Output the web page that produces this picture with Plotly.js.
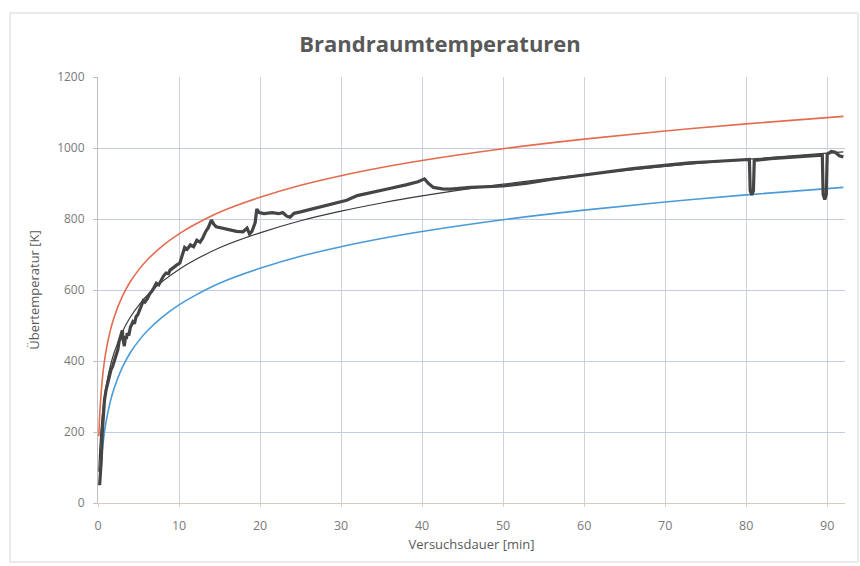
<!DOCTYPE html>
<html>
<head>
<meta charset="utf-8">
<script src="https://cdn.plot.ly/plotly-3.0.1.min.js"></script>
<style>
html,body{margin:0;padding:0;background:#fff;}
#chart{width:860px;height:566px;}
</style>
</head>
<body>
<div id="chart"></div>
<script>
// Reference curves
const refTime  = [0.1, 0.25, 0.5, 0.75, 1, 1.5, 2, 3, 4, 5, 6, 8, 10, 12, 15, 20, 25, 30, 35, 40, 50, 60, 70, 80, 92];
const etkMid   = [88, 165, 241, 292, 329, 384, 424, 482, 524, 556, 583, 625, 658, 685, 719, 761, 795, 822, 845, 865, 898, 925, 948, 968, 989];
const etkUpper = [188, 265, 341, 392, 429, 484, 524, 582, 624, 656, 683, 725, 758, 785, 819, 861, 895, 922, 945, 965, 998, 1025, 1048, 1068, 1089];
const blueTime = [0.25, 0.5, 0.75, 1, 1.5, 2, 3, 4, 5, 6, 8, 10, 12, 15, 20, 25, 30, 35, 40, 50, 60, 70, 80, 92];
const etkLower = [65, 141, 192, 229, 284, 324, 382, 424, 456, 483, 525, 558, 585, 619, 661, 695, 722, 745, 765, 798, 825, 848, 868, 889];

const measTime = [0.2, 0.3, 0.4, 0.53, 0.8, 1.0, 1.2, 1.4, 1.6, 1.8, 2.0, 2.15, 2.3, 2.45, 2.6, 2.8, 2.9, 3.0, 3.1, 3.25, 3.4, 3.5, 3.6, 3.8, 4.0, 4.3, 4.5, 4.7, 4.9, 5.1, 5.3, 5.6, 5.8, 6.1, 6.4, 6.6, 6.9, 7.2, 7.5, 7.8, 8.1, 8.4, 8.7, 8.9, 9.2, 9.4, 9.7, 10.1, 10.4, 10.7, 11.0, 11.4, 11.8, 12.2, 12.6, 12.9, 13.3, 13.6, 14.0, 14.3, 14.6, 15.3, 16.3, 17.1, 17.9, 18.2, 18.4, 18.7, 19.0, 19.4, 19.6, 19.9, 20.5, 21.5, 22.3, 22.8, 23.3, 23.7, 24.2, 25, 26, 27.4, 29, 30.7, 32, 34, 36, 38, 39.5, 40.3, 40.8, 41.4, 42.5, 43.5, 46, 50, 53, 56, 59.9, 63, 66, 70.2, 73, 76, 80, 80.4, 80.5, 80.7, 80.9, 81.0, 83, 86, 89, 89.4, 89.5, 89.7, 89.9, 90, 90.5, 91, 91.5, 92];
const measTemp = [50, 80, 120, 200, 290, 318, 340, 352, 375, 385, 400, 408, 420, 432, 455, 470, 482, 486, 460, 442, 470, 462, 478, 472, 495, 510, 505, 525, 530, 540, 552, 570, 566, 576, 590, 595, 606, 619, 615, 630, 640, 648, 646, 656, 662, 665, 670, 676, 695, 720, 715, 727, 722, 740, 735, 745, 765, 775, 797, 785, 778, 775, 769, 765, 764, 770, 774, 758, 765, 790, 828, 818, 815, 818, 815, 818, 808, 805, 816, 820, 826, 835, 845, 853, 866, 877, 886, 896, 905, 913, 900, 889, 885, 884, 889, 893, 901, 912, 924, 932, 942, 952, 958, 962, 968, 968, 880, 868, 880, 965, 970, 975, 980, 980, 870, 855, 870, 982, 990, 988, 978, 975];

const xTicks = [0, 10, 20, 30, 40, 50, 60, 70, 80, 90];
const yTicks = [0, 200, 400, 600, 800, 1000, 1200];

const traces = [
  {x: refTime, y: etkUpper, mode: 'lines', line: {color: '#e46c4f', width: 1.6, shape: 'spline'}, hoverinfo: 'skip'},
  {x: blueTime, y: etkLower, mode: 'lines', line: {color: '#4a9bd8', width: 1.6, shape: 'spline'}, hoverinfo: 'skip'},
  {x: refTime, y: etkMid, mode: 'lines', line: {color: '#3a3a3a', width: 1.2, shape: 'spline'}, hoverinfo: 'skip'},
  {x: measTime, y: measTemp, mode: 'lines', line: {color: '#454545', width: 3.2}, hoverinfo: 'skip'}
];

const L = 98, R = 845, T = 77, B = 503, W = 860, H = 566;
const pw = R - L, ph = B - T;
function px(xp){ return (xp - L) / pw; }
function py(yp){ return (B - yp) / ph; }

const layout = {
  width: W, height: H,
  margin: {l: L, r: W - R, t: T, b: H - B, pad: 0},
  paper_bgcolor: '#ffffff', plot_bgcolor: '#ffffff',
  showlegend: false,
  title: {text: '<b>Brandraumtemperaturen</b>', x: 440 / W, xanchor: 'center', y: 1 - 44 / H, yanchor: 'middle',
          font: {family: 'Open Sans, sans-serif', size: 22, color: '#595959'}},
  font: {family: 'Open Sans, sans-serif', color: '#595959'},
  xaxis: {range: [0, 92.2], tickvals: xTicks, ticktext: xTicks.map(String),
          showgrid: true, gridcolor: '#cdd2e2', gridwidth: 1, zeroline: false,
          showline: true, linecolor: '#d5ccbc', linewidth: 1.3,
          ticks: 'outside', ticklen: 3, tickcolor: '#cdd2e2', ticklabelstandoff: 8,
          tickfont: {size: 12.5, color: '#7a7a7a'},
          title: {text: 'Versuchsdauer [min]', font: {size: 13, color: '#595959'}, standoff: 6}},
  yaxis: {range: [0, 1200], tickvals: yTicks, ticktext: yTicks.map(String),
          showgrid: true, gridcolor: '#c5cbe2', gridwidth: 1, zeroline: false,
          showline: true, linecolor: '#bfbfbf', linewidth: 1,
          ticks: 'outside', ticklen: 4, tickcolor: '#bfbfbf', ticklabelstandoff: 6,
          tickfont: {size: 12, color: '#7a7a7a'},
          title: {text: 'Übertemperatur [K]', font: {size: 13, color: '#595959'}, standoff: 14}},
  shapes: [
    {type: 'rect', xref: 'paper', yref: 'paper', x0: px(10), x1: px(858), y0: py(562), y1: py(13),
     line: {color: '#d6d6de', width: 1}, fillcolor: 'rgba(0,0,0,0)', layer: 'below'}
  ]
};

Plotly.newPlot('chart', traces, layout, {displayModeBar: false, staticPlot: true});
</script>
</body>
</html>
